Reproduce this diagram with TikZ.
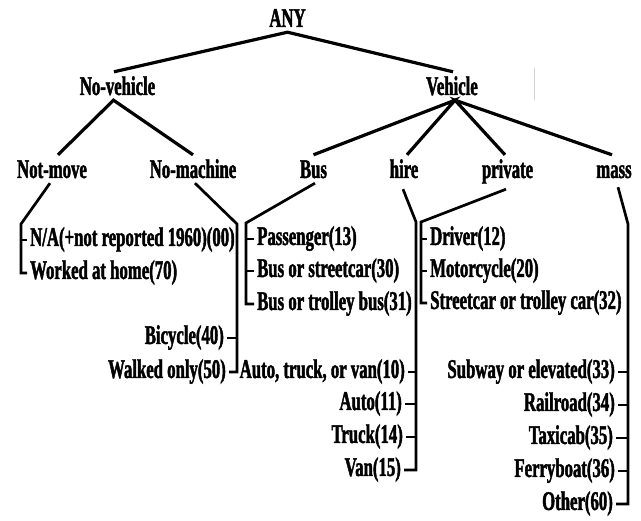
\documentclass[tikz,border=0pt]{standalone}
\usepackage{fontspec}
\setmainfont{Liberation Serif}[UprightFont={* Bold}, BoldFont={* Bold}, FakeStretch=0.62, FakeBold=1.6]
\usetikzlibrary{calc}
\begin{document}
\begin{tikzpicture}[x=1pt,y=-1pt,
  every node/.style={font=\fontsize{27}{30}\selectfont},
  head/.style={inner xsep=2pt, inner ysep=5pt, text height=18pt, text depth=0pt, anchor=base},
  leaf/.style={inner xsep=3pt, inner ysep=0pt, text height=18pt, text depth=6pt},
  edge/.style={line width=3.2pt},
  brk/.style={line width=2.7pt},
]
\useasboundingbox (0,0) rectangle (641,521);

% category heads
\node[head] (any)   at (287.5,27) {ANY};
\node[head] (nv)    at (117.5,95) {No-vehicle};
\node[head] (veh)   at (452,95)   {Vehicle};
\node[head] (nmove) at (52,178)   {Not-move};
\node[head] (nmach) at (193,178)  {No-machine};
\node[head] (bus)   at (313.5,178){Bus};
\node[head] (hire)  at (404,178)  {hire};
\node[head] (priv)  at (507.5,178){private};
\node[head] (mass)  at (614,178)  {mass};

% upper tree edges
\draw[edge] ($(nv.north)+(-3.5,0)$) -- (any.south) -- ($(veh.north)+(1,0)$);
\draw[edge] ($(nmove.north)+(6,0)$) -- ($(nv.south)+(-4,0)$) -- (nmach.north);
\draw[edge] (bus.north) -- ($(veh.south)+(3,0)$) -- ($(hire.north)+(3,0)$);
\draw[edge] ($(priv.north)+(-2.5,0)$) -- ($(veh.south)+(3,0)$) -- ($(mass.north)+(-2,0)$);

% leaf codes
\node[leaf,anchor=west] (na)    at (27,240)  {N/A(+not reported 1960)(00)};
\node[leaf,anchor=west] (home)  at (27,273)  {Worked at home(70)};
\node[leaf,anchor=east] (bike)  at (227,338) {Bicycle(40)};
\node[leaf,anchor=east] (walk)  at (229,372) {Walked only(50)};
\node[leaf,anchor=west] (pass)  at (254,239) {Passenger(13)};
\node[leaf,anchor=west] (bstr)  at (254,271) {Bus or streetcar(30)};
\node[leaf,anchor=west] (btrol) at (254,304) {Bus or trolley bus(31)};
\node[leaf,anchor=east] (atv)   at (408,372) {Auto, truck, or van(10)};
\node[leaf,anchor=east] (auto)  at (405,404) {Auto(11)};
\node[leaf,anchor=east] (truck) at (406,437) {Truck(14)};
\node[leaf,anchor=east] (van)   at (404,470) {Van(15)};
\node[leaf,anchor=west] (drv)   at (427,239) {Driver(12)};
\node[leaf,anchor=west] (moto)  at (427,271) {Motorcycle(20)};
\node[leaf,anchor=west] (strc)  at (427,303) {Streetcar or trolley car(32)};
\node[leaf,anchor=east] (subw)  at (618,372) {Subway or elevated(33)};
\node[leaf,anchor=east] (rail)  at (618,405) {Railroad(34)};
\node[leaf,anchor=east] (taxi)  at (616,438) {Taxicab(35)};
\node[leaf,anchor=east] (ferry) at (618,471) {Ferryboat(36)};
\node[leaf,anchor=east] (other) at (616,504) {Other(60)};

% bracket corners
\coordinate (cmove) at (21,224);
\coordinate (cmach) at (237,224);
\coordinate (cbus)  at (246,223);
\coordinate (chire) at (416,222);
\coordinate (cpriv) at (421,222);
\coordinate (cmass) at (628,224);

% brackets
\draw[brk] ($(nmove.south)+(-2,0)$) -- (cmove) |- (home.west);
\draw[brk] (cmove |- na.west) -- (na.west);

\draw[brk] ($(nmach.south)+(2,0)$) -- (cmach) |- (walk.east);
\draw[brk] (cmach |- bike.east) -- (bike.east);

\draw[brk] ($(bus.south)+(1.5,0)$) -- (cbus) |- (btrol.west);
\draw[brk] (cbus |- pass.west) -- (pass.west);
\draw[brk] (cbus |- bstr.west) -- (bstr.west);

\draw[brk] ($(hire.south)+(-1,6)$) -- (chire) |- (van.east);
\draw[brk] (chire |- atv.east) -- (atv.east);
\draw[brk] (chire |- auto.east) -- (auto.east);
\draw[brk] (chire |- truck.east) -- (truck.east);

\draw[brk] ($(priv.south)+(-1.5,6)$) -- (cpriv) |- (strc.west);
\draw[brk] (cpriv |- drv.west) -- (drv.west);
\draw[brk] (cpriv |- moto.west) -- (moto.west);

\draw[brk] ($(mass.south)+(4,4)$) -- (cmass) |- (other.east);
\draw[brk] (cmass |- subw.east) -- (subw.east);
\draw[brk] (cmass |- rail.east) -- (rail.east);
\draw[brk] (cmass |- taxi.east) -- (taxi.east);
\draw[brk] (cmass |- ferry.east) -- (ferry.east);

% faint stray rule
\draw[black!18, line width=0.8pt] (534,68) -- (534,100);
\end{tikzpicture}
\end{document}
